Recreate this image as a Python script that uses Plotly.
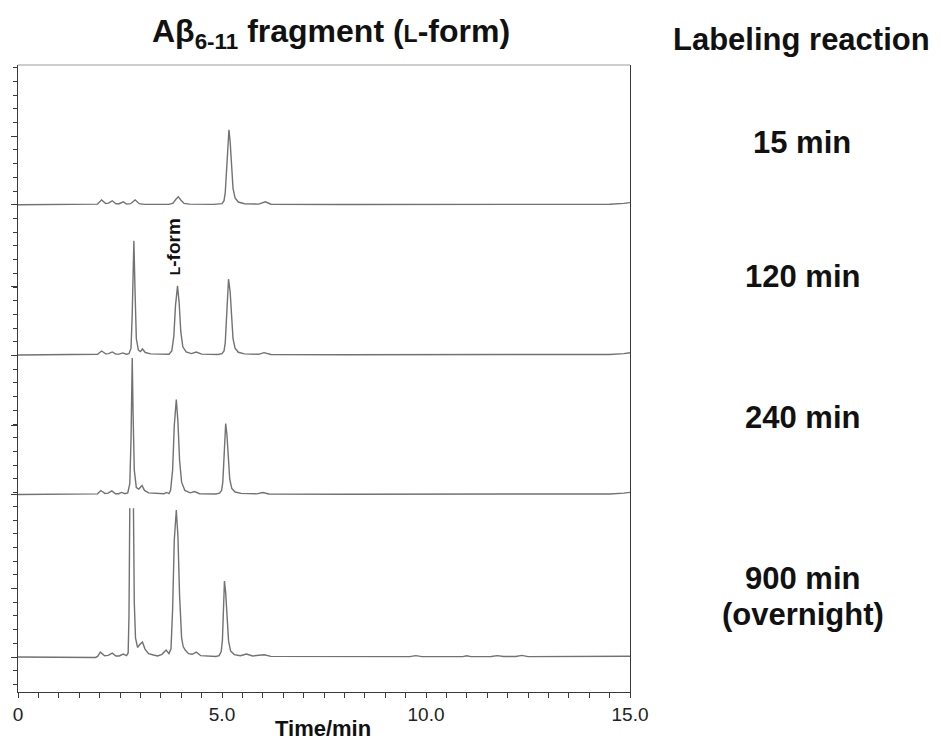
import plotly.graph_objects as go

# ---- data (time in min, signal in arbitrary units above each baseline) ----
trace_15 = [(0, 0), (1.0, 0), (1.85, 0), (1.95, 0.5), (2.05, 3.6), (2.15, 1.0), (2.22, 1.2), (2.31, 2.9),
            (2.40, 0.8), (2.48, 0.8), (2.58, 2.2), (2.66, 0.5), (2.76, 0.8), (2.87, 3.6), (2.97, 0.8),
            (3.10, 0.3), (3.70, 0.3), (3.80, 1.2), (3.87, 4.0), (3.93, 5.8), (3.99, 3.5), (4.07, 1.0),
            (4.20, 0.5), (4.80, 0.3), (5.00, 0.8), (5.05, 3), (5.08, 9), (5.11, 25), (5.14, 45),
            (5.17, 54.7), (5.20, 46), (5.23, 28), (5.27, 12), (5.32, 5), (5.40, 2), (5.55, 0.8),
            (5.90, 0.5), (6.06, 2.2), (6.20, 0.4), (8.0, 0.2), (10.0, 0.3), (12.0, 0.3), (14.5, 0.4),
            (14.85, 1.0), (15.0, 1.6)]

trace_120 = [(0, 0), (1.0, 0), (1.85, 0), (1.95, 0.5), (2.05, 2.9), (2.15, 0.8), (2.22, 1.0), (2.31, 2.2),
             (2.40, 0.6), (2.48, 0.6), (2.57, 1.5), (2.65, 0.6), (2.72, 1.0), (2.77, 5), (2.80, 30),
             (2.84, 83.4), (2.87, 45), (2.90, 12), (2.95, 3.5), (3.00, 2.5), (3.05, 4.4), (3.12, 1.8),
             (3.25, 0.8), (3.50, 0.4), (3.70, 0.5), (3.77, 3), (3.82, 14), (3.86, 36), (3.91, 50.4),
             (3.95, 38), (3.99, 17), (4.04, 6), (4.12, 2.2), (4.25, 1.0), (4.37, 2.2), (4.50, 0.6),
             (4.90, 0.4), (5.00, 1.0), (5.05, 3), (5.08, 9), (5.11, 25), (5.14, 45), (5.16, 55.3),
             (5.20, 46), (5.23, 28), (5.27, 12), (5.32, 5), (5.40, 2), (5.55, 0.8), (5.90, 0.5),
             (6.03, 1.7), (6.20, 0.4), (8.0, 0.2), (10.0, 0.3), (12.0, 0.3), (14.5, 0.4), (14.85, 1.0),
             (15.0, 1.6)]

trace_240 = [(0, 0), (1.0, 0), (1.85, 0), (1.95, 0.5), (2.03, 2.9), (2.13, 0.8), (2.21, 1.0), (2.30, 2.6),
             (2.39, 0.6), (2.47, 0.6), (2.54, 1.5), (2.62, 0.6), (2.69, 1.2), (2.74, 8), (2.77, 40),
             (2.80, 99.6), (2.82, 60), (2.85, 18), (2.90, 5), (2.96, 4), (3.04, 6.6), (3.10, 3),
             (3.20, 1.2), (3.45, 0.5), (3.58, 0.6), (3.64, 1.5), (3.70, 0.7), (3.74, 3), (3.79, 18),
             (3.83, 50), (3.88, 69.3), (3.92, 53), (3.96, 25), (4.01, 9), (4.09, 3), (4.22, 1.2),
             (4.33, 2.2), (4.45, 0.6), (4.85, 0.4), (4.94, 1.0), (4.99, 3), (5.02, 9), (5.05, 25),
             (5.07, 40), (5.09, 51.8), (5.12, 44), (5.15, 26), (5.19, 11), (5.24, 4.5), (5.32, 1.8),
             (5.47, 0.8), (5.85, 0.5), (6.00, 1.5), (6.15, 0.4), (8.0, 0.2), (10.0, 0.3), (12.0, 0.3),
             (14.5, 0.4), (14.85, 1.0), (15.0, 1.6)]

trace_900 = [(0, 0), (1.0, 0), (1.80, 0.2), (1.90, -0.3), (1.95, 0.5), (2.02, 3.6), (2.12, 1.0),
             (2.21, 1.2), (2.31, 2.9), (2.40, 0.8), (2.48, 0.8), (2.58, 2.2), (2.66, 1.0), (2.70, 3),
             (2.72, 30), (2.74, 108.5), (2.785, None), (2.83, 108.5), (2.85, 40), (2.88, 14),
             (2.93, 7), (2.98, 9), (3.05, 11), (3.11, 6), (3.20, 2.5), (3.32, 1.5), (3.42, 0.8),
             (3.53, 2), (3.63, 5.1), (3.70, 2.5), (3.75, 6), (3.79, 35), (3.83, 85), (3.88, 107.3),
             (3.92, 88), (3.96, 45), (4.01, 14), (4.05, 7.5), (4.10, 5.1), (4.18, 2.5), (4.27, 2),
             (4.37, 3.6), (4.48, 1.0), (4.85, 0.4), (4.93, 1.0), (4.98, 4), (5.01, 12), (5.04, 38),
             (5.06, 55.5), (5.09, 47), (5.12, 28), (5.16, 12), (5.21, 4.5), (5.30, 1.8), (5.45, 1.0),
             (5.60, 2.2), (5.75, 0.8), (6.03, 1.7), (6.20, 0.5), (8.0, 0.2), (9.6, 0.3), (9.75, 1.0),
             (9.9, 0.3), (10.9, 0.3), (11.0, 0.9), (11.1, 0.3), (11.6, 0.4), (11.75, 1.0), (11.9, 0.4),
             (12.2, 0.4), (12.35, 1.2), (12.5, 0.3), (14.5, 0.3), (14.85, 0.5), (15.0, 0.6)]

reaction_labels = ["15 min", "120 min", "240 min", "900 min"]
traces = [trace_15, trace_120, trace_240, trace_900]
baseline_offsets = [330, 220.4, 118.6, 0]

x_tick_vals = [0, 5, 10, 15]
x_tick_text = ["0", "5.0", "10.0", "15.0"]
y_major_ticks = [0, 50, 118.6, 168.6, 220.4, 270.4, 330, 380]

FONT = "Liberation Sans, Arial, Helvetica, sans-serif"
LINE_COLOR = "#727272"
AXIS_COLOR = "#3a3a3a"

fig = go.Figure()
for name, pts, off in zip(reaction_labels, traces, baseline_offsets):
    xs = [p[0] for p in pts]
    ys = [None if p[1] is None else p[1] + off for p in pts]
    fig.add_trace(go.Scatter(x=xs, y=ys, mode="lines", name=name, connectgaps=False,
                             line=dict(color=LINE_COLOR, width=1.4), showlegend=False,
                             hoverinfo="skip"))

L_plot, R_plot, T_plot, B_plot = 16, 630, 65, 692
W, H = 941, 742
pw, ph = R_plot - L_plot, B_plot - T_plot


def px_x(px):
    return (px - L_plot) / pw


def px_y(py):
    return (B_plot - py) / ph


fig.update_layout(
    width=W, height=H,
    margin=dict(l=L_plot, r=W - R_plot, t=T_plot, b=H - B_plot, pad=0),
    paper_bgcolor="white", plot_bgcolor="white",
    font=dict(family=FONT, color="#111"),
    xaxis=dict(range=[0, 15], showgrid=False, zeroline=False, showline=True, linecolor=AXIS_COLOR,
               linewidth=1.3, mirror=False, ticks="outside", ticklen=5, tickwidth=1, tickcolor=AXIS_COLOR,
               tickvals=x_tick_vals, ticktext=x_tick_text, tickfont=dict(size=19, color="#222", family=FONT),
               minor=dict(dtick=0.5, tick0=0, ticks="outside", ticklen=5, tickcolor=AXIS_COLOR, showgrid=False)),
    yaxis=dict(range=[-25.5, 432], showgrid=False, zeroline=False, showline=True, linecolor=AXIS_COLOR,
               linewidth=1.3, mirror=True, ticks="outside", ticklen=6, tickwidth=1, tickcolor=AXIS_COLOR,
               tickvals=y_major_ticks, showticklabels=False,
               minor=dict(dtick=10, tick0=0, ticks="outside", ticklen=4, tickcolor=AXIS_COLOR, showgrid=False)),
)

# light grey top frame line
fig.add_shape(type="line", xref="paper", yref="paper", x0=0, x1=1, y0=1, y1=1,
              line=dict(color="#bdbdbd", width=1.3))

ann = []
ann.append(dict(text="<b>Aβ<sub>6-11</sub> fragment (<span style='font-size:23px'>L</span>-form)</b>",
                x=px_x(330), y=px_y(34), font=dict(size=32, color="#111")))
ann.append(dict(text="<b>Labeling reaction</b>", x=px_x(802), y=px_y(40), font=dict(size=31, color="#111")))
label_y = [142, 276, 417, 578]
for lab, yy in zip(reaction_labels, label_y):
    ann.append(dict(text=f"<b>{lab}</b>", x=px_x(803), y=px_y(yy), font=dict(size=31, color="#111")))
ann.append(dict(text="<b>(overnight)</b>", x=px_x(804), y=px_y(614), font=dict(size=31, color="#111")))
ann.append(dict(text="<b>Time/min</b>", x=px_x(322), y=px_y(729), font=dict(size=22, color="#111")))

for a in ann:
    a.update(xref="paper", yref="paper", showarrow=False, xanchor="center", yanchor="middle")
    fig.add_annotation(**a)

fig.add_annotation(text="<b><span style='font-size:14px'>L</span>-form</b>", x=3.82, y=299.6,
                   xref="x", yref="y", textangle=-90, showarrow=False, xanchor="center", yanchor="middle",
                   font=dict(size=19, color="#111"))

fig.write_html("out.html")
